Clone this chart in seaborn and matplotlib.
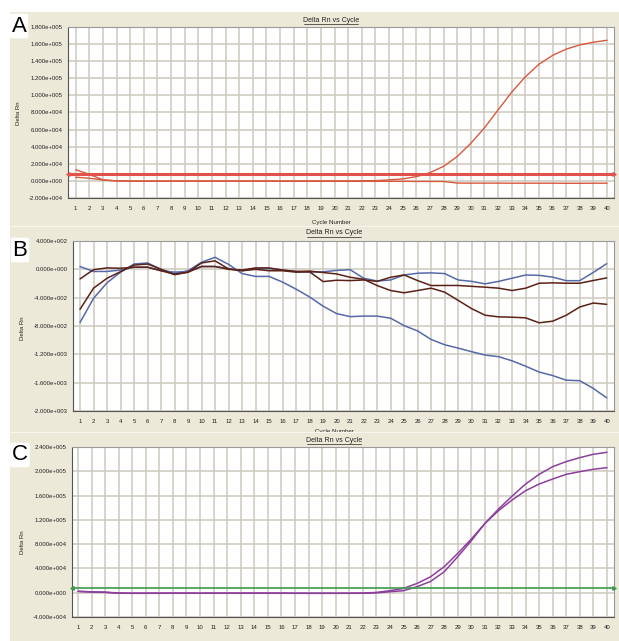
import numpy as np
import pandas as pd
import matplotlib
matplotlib.use("Agg")
import matplotlib.pyplot as plt
import seaborn as sns
from matplotlib.patches import Rectangle
from matplotlib.lines import Line2D

sns.set_theme(style="white")
plt.rcParams['font.family'] = ['Liberation Sans', 'DejaVu Sans']

# ---------------- data ----------------
cycles = list(range(1, 41))

# Panel A
a_amp = [4300, 3100, 1100, 0, -200, -200, -200, -100, -100, -100, -100, -100, -100, -100,
         -100, -100, -100, -100, 0, 0, 0, 100, 300, 1200, 2300, 5000, 9600, 17000, 28500,
         44000, 62000, 83000, 103700, 121700, 136400, 146800, 154100, 159100, 162200, 164500]
a_flat = [13000, 7700, 1200, 0, -300, -300, -300, -300, -300, -300, -300, -300, -300, -300,
          -300, -500, -500, -500, -500, -500, -500, -500, -500, -500, -500, -600, -600, -700,
          -2500, -2600, -2600, -2600, -2700, -2700, -2700, -2700, -2800, -2800, -2700, -2700]
a_threshold = 8000
a_yticks = [-20000, 0, 20000, 40000, 60000, 80000, 100000, 120000, 140000, 160000, 180000]

# Panel B
b_blue_flat = [40, -30, -30, -10, 30, 30, -20, -40, -30, 40, 40, 10, -20, 10, 10, -10, -30,
               -40, -35, -15, -5, -125, -165, -150, -80, -55, -50, -60, -150, -170, -205,
               -170, -125, -80, -85, -110, -160, -160, -45, 80]
b_blue_down = [-750, -410, -190, -40, 75, 90, 0, -60, -20, 100, 170, 70, -60, -100, -100,
               -180, -280, -390, -520, -625, -668, -660, -660, -690, -795, -870, -990, -1065,
               -1112, -1163, -1210, -1233, -1292, -1368, -1450, -1500, -1565, -1572, -1680, -1815]
b_brown_low = [-135, -5, 20, 15, 30, 30, -20, -70, -40, 40, 40, 0, -10, 20, 20, -10, -30,
               -25, -45, -65, -112, -140, -229, -299, -331, -299, -266, -322, -438, -555,
               -648, -671, -676, -685, -755, -732, -648, -532, -476, -494]
b_brown_mid = [-564, -266, -126, -33, 60, 75, 0, -75, -40, 90, 120, 5, -20, 0, -20, -20, -40,
               -35, -173, -154, -159, -150, -170, -112, -79, -159, -229, -228, -228, -240,
               -252, -266, -299, -266, -196, -191, -196, -196, -158, -121]
b_yticks = [-2000, -1600, -1200, -800, -400, 0, 400]

# Panel C
c_early = [2500, 1500, 1000, -500, -800, -800, -600, -600, -700, -700, -700, -700, -600, -600,
           -600, -700, -800, -900, -900, -900, -800, -600, 500, 3300, 7100, 15300, 26300,
           42800, 64800, 88400, 114000, 135000, 152600, 168000, 179000, 187300, 195000,
           199400, 203300, 206000]
c_late = [2000, 1000, 500, -800, -1000, -1000, -1000, -900, -900, -900, -900, -900, -900,
          -900, -900, -900, -1000, -1000, -1000, -1000, -1000, -900, -300, 1600, 3300, 9900,
          18700, 34500, 59300, 85600, 114000, 137700, 159000, 179000, 195000, 207600, 216000,
          222500, 228000, 231300]
c_threshold = 8500
c_yticks = [-40000, 0, 40000, 80000, 120000, 160000, 200000, 240000]

# ---------------- figure ----------------
W, H = 619, 641
fig = plt.figure(figsize=(W / 100, H / 100), dpi=100)
fig.patch.set_facecolor("white")

BEIGE = "#ECE9D8"
GRID = "#CDC9BE"
TXT = "#222222"


def fx(px):
    return px / W


def fy(py):
    return 1 - py / H


# beige panel backgrounds (C panel drawn over B's bottom label)
for (y0, y1, z) in [(12, 226, 0.1), (226, 432, 0.1), (432, 641, 0.3)]:
    fig.add_artist(Rectangle((fx(10), fy(y1)), fx(619) - fx(10), (y1 - y0) / H,
                             transform=fig.transFigure, fc=BEIGE, ec="none", zorder=z))
for ysep in [226, 432]:
    fig.add_artist(Line2D([fx(10), fx(619)], [fy(ysep), fy(ysep)], transform=fig.transFigure,
                          color="#F7F6EF", lw=0.8, zorder=0.4))


def sci(v):
    m, e = f"{v:.3e}".split("e")
    sign = e[0]
    return f"{m}e{sign}{int(e[1:]):03d}"


def make_axes(l, r, t, b, xlim, ylim, yticks):
    ax = fig.add_axes([fx(l), fy(b), (r - l) / W, (b - t) / H])
    ax.set_zorder(1)
    ax.set_facecolor("white")
    ax.set_xlim(*xlim)
    ax.set_ylim(*ylim)
    ax.set_xticks(cycles)
    ax.set_xticklabels([str(c) for c in cycles])
    ax.set_yticks(yticks)
    ax.set_yticklabels([sci(v) for v in yticks])
    ax.grid(True, color=GRID, lw=1.1, zorder=0)
    ax.set_axisbelow(True)
    ax.tick_params(axis="both", labelsize=4.3, colors=TXT, length=2, width=0.6, pad=2)
    ax.tick_params(axis="x", pad=3.5)
    for s in ["left", "bottom"]:
        ax.spines[s].set_color("#555555")
        ax.spines[s].set_linewidth(0.8)
    for s in ["top", "right"]:
        ax.spines[s].set_color("#9A9A9A")
        ax.spines[s].set_linewidth(0.8)
    ax.set_xlabel("")
    ax.set_ylabel("")
    return ax


def titles(xc, ytitle, ylab_x, ylab_y, xlab_y):
    fig.text(fx(xc), fy(ytitle), "Delta Rn vs Cycle", ha="center", va="center",
             fontsize=5, color=TXT, zorder=5)
    fig.add_artist(Line2D([fx(xc - 27), fx(xc + 27)], [fy(ytitle + 3.6)] * 2,
                          transform=fig.transFigure, color=TXT, lw=0.5, zorder=5))
    fig.text(fx(ylab_x), fy(ylab_y), "Delta Rn", rotation=90, ha="center", va="center",
             fontsize=4.3, color=TXT, zorder=5)
    fig.text(fx(xc), fy(xlab_y), "Cycle Number", ha="center", va="center",
             fontsize=4.4, color=TXT, zorder=0.2)


def threshold(ax, y, color, lw):
    ax.axhline(y, color=color, lw=lw, zorder=3)
    x0, x1 = ax.get_xlim()
    ax.plot([x0], [y], marker="<", ms=2.5, color=color, clip_on=False, zorder=4)
    ax.plot([x1], [y], marker=">", ms=2.5, color=color, clip_on=False, zorder=4)


# ---------- Panel A ----------
axA = make_axes(68, 614, 27, 198, (0.435, 40.51), (-20000, 180000), a_yticks)
RED = "#D9583C"
sns.lineplot(x=cycles, y=a_flat, ax=axA, color=RED, lw=1.0, zorder=3)
sns.lineplot(x=cycles, y=a_amp, ax=axA, color=RED, lw=1.0, zorder=3)
threshold(axA, a_threshold, "#E2514A", 2.2)
titles(331, 20, 18, 113, 222)

# ---------- Panel B ----------
axB = make_axes(73, 614, 241, 411, (0.48, 40.54), (-2000, 400), b_yticks)
BLUE = "#5569A8"
BROWN = "#5A2117"
sns.lineplot(x=cycles, y=b_blue_down, ax=axB, color=BLUE, lw=1.1, zorder=3)
sns.lineplot(x=cycles, y=b_blue_flat, ax=axB, color=BLUE, lw=1.1, zorder=3)
sns.lineplot(x=cycles, y=b_brown_low, ax=axB, color=BROWN, lw=1.1, zorder=3)
sns.lineplot(x=cycles, y=b_brown_mid, ax=axB, color=BROWN, lw=1.1, zorder=3)
titles(334, 233, 22, 328, 432)

# ---------- Panel C ----------
axC = make_axes(72, 614, 447, 617, (0.558, 40.52), (-40000, 240000), c_yticks)
PURPLE = "#8C3F9C"
sns.lineplot(x=cycles, y=c_early, ax=axC, color=PURPLE, lw=1.1, zorder=3)
sns.lineplot(x=cycles, y=c_late, ax=axC, color=PURPLE, lw=1.1, zorder=3)
threshold(axC, c_threshold, "#3F9A4B", 1.2)
titles(334, 440, 22, 542, 638)

# panel letters
for letter, (x, y) in {"A": (19, 26), "B": (20, 250), "C": (20, 455)}.items():
    fig.text(fx(x), fy(y), letter, ha="center", va="center", fontsize=16, color="black",
             zorder=6, bbox=dict(boxstyle="round,pad=0.08", fc="white", ec="none"))

fig.savefig("out.png", dpi=100, facecolor="white")
